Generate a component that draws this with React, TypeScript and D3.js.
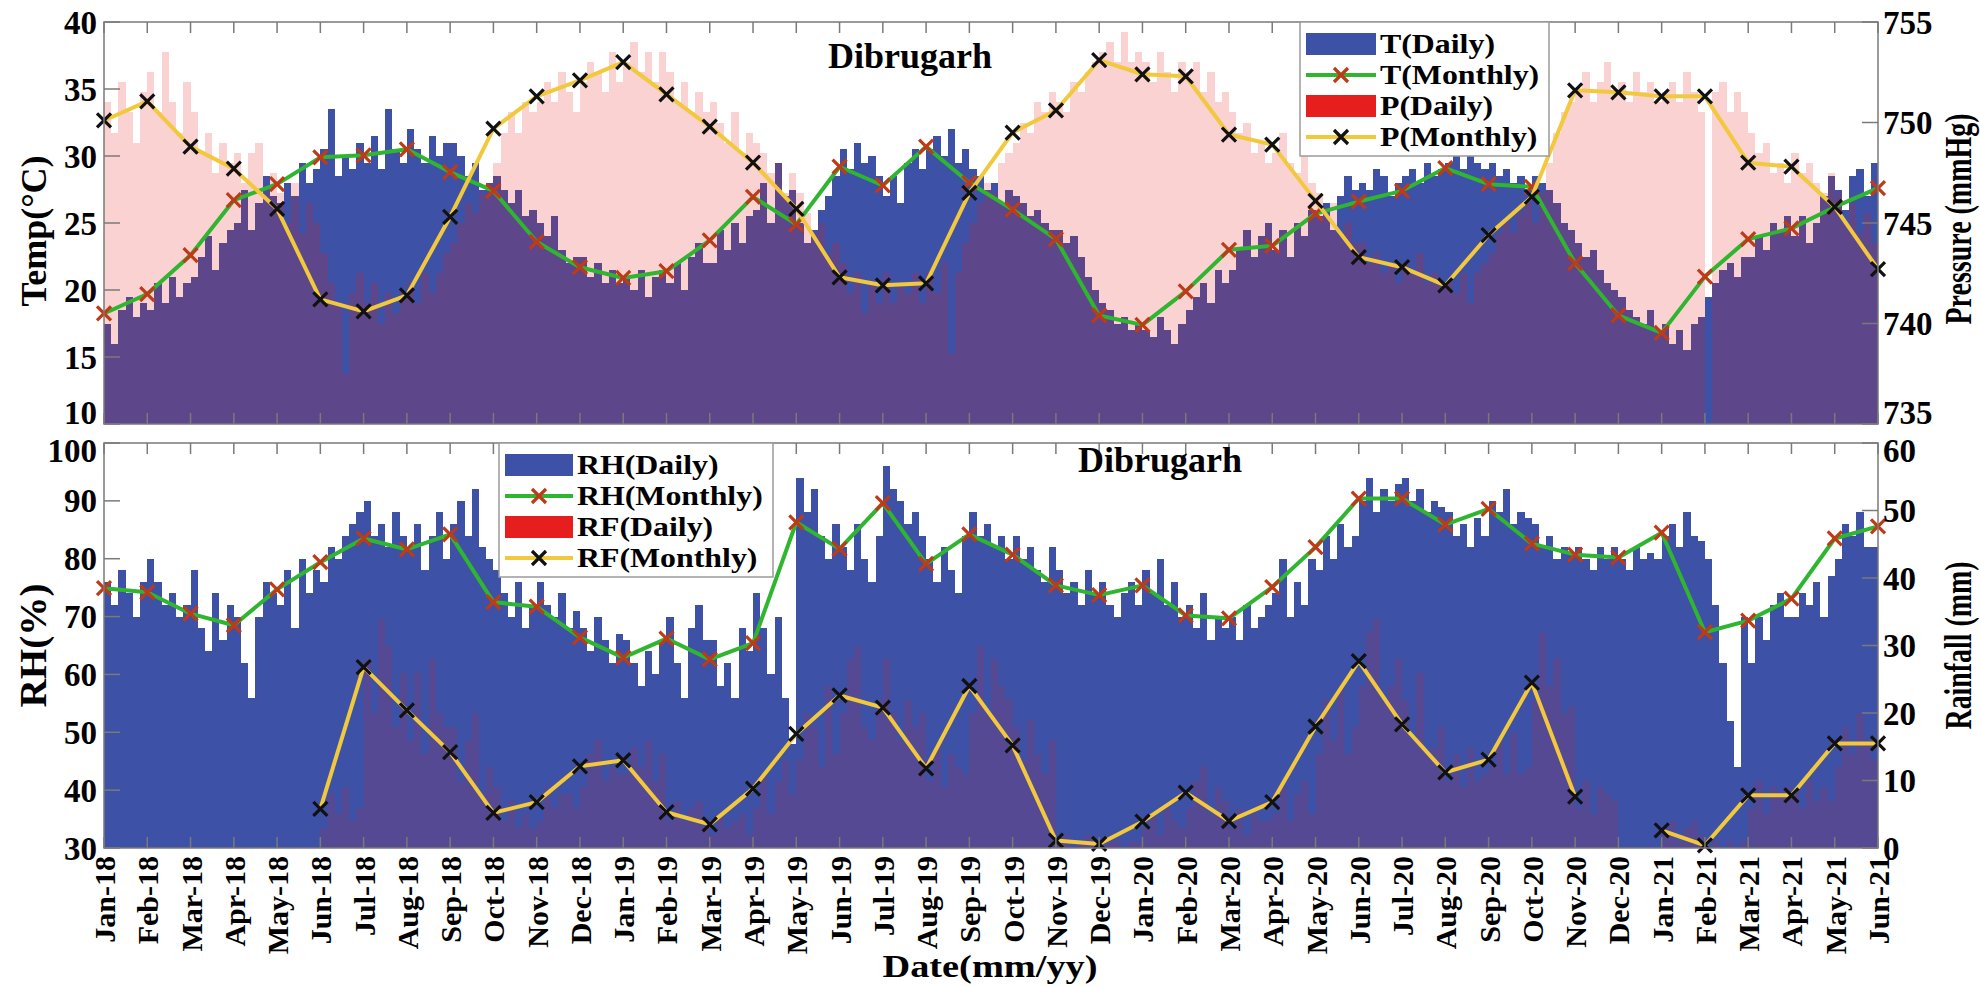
import React from 'react';
import * as d3 from 'd3';

// ---------- DATA ----------
const monthLabels = [
  'Jan-18','Feb-18','Mar-18','Apr-18','May-18','Jun-18','Jul-18','Aug-18','Sep-18','Oct-18','Nov-18','Dec-18',
  'Jan-19','Feb-19','Mar-19','Apr-19','May-19','Jun-19','Jul-19','Aug-19','Sep-19','Oct-19','Nov-19','Dec-19',
  'Jan-20','Feb-20','Mar-20','Apr-20','May-20','Jun-20','Jul-20','Aug-20','Sep-20','Oct-20','Nov-20','Dec-20',
  'Jan-21','Feb-21','Mar-21','Apr-21','May-21','Jun-21'
];

const tMonthly = [
  18.25, 19.7, 22.6, 26.7, 27.9, 29.9, 30.05, 30.5, 28.8, 27.4, 23.6, 21.7,
  20.9, 21.4, 23.7, 26.95, 24.9, 29.2, 27.8, 30.7, 28.0, 26.0, 23.8, 18.1,
  17.4, 19.9, 23.0, 23.3, 25.7, 26.6, 27.4, 29.1, 27.9, 27.7, 22.0, 18.1,
  16.8, 21.0, 23.8, 24.6, 26.2, 27.6
];
const pMonthly = [
  750.1, 751.05, 748.8, 747.7, 745.7, 741.2, 740.6, 741.4, 745.3, 749.7, 751.3, 752.1,
  753.0, 751.4, 749.8, 748.0, 745.7, 742.3, 741.9, 742.0, 746.5, 749.5, 750.6, 753.1,
  752.4, 752.3, 749.4, 748.9, 746.1, 743.3, 742.8, 741.9, 744.4, 746.3, 751.6, 751.5,
  751.3, 751.3, 748.0, 747.8, 745.8, 742.7
];
const rhMonthly = [
  74.9, 74.2, 70.5, 68.5, 74.7, 79.4, 83.5, 81.6, 84.2, 72.5, 71.7, 66.4,
  62.9, 66.2, 62.6, 65.4, 86.3, 81.7, 89.6, 79.1, 84.2, 80.7, 75.4, 73.7,
  75.4, 70.2, 69.7, 75.1, 82.0, 90.4, 90.4, 85.9, 88.6, 82.6, 80.7, 80.2,
  84.5, 67.3, 69.3, 73.1, 83.5, 85.6
];
const rfMonthly: (number | null)[] = [
  null, null, null, null, null, 5.8, 26.8, 20.4, 14.2, 5.2, 6.8, 12.1,
  13.0, 5.3, 3.5, 8.8, 16.9, 22.6, 20.8, 11.8, 24.0, 15.2, 1.1, 0.6,
  3.9, 8.2, 4.0, 6.8, 18.0, 27.7, 18.3, 11.2, 13.1, 24.5, 7.6, null,
  2.6, 0.4, 7.8, 7.8, 15.5, 15.5
];

// Daily series, sampled every ~5 days (6 values per month), Jan-18 .. May-21
const tDaily = [
  17.5,16.0,18.5,19.5,18.0,19.0, 18.5,20.5,19.0,21.0,19.5,20.5, 21.0,22.5,24.0,21.5,23.5,24.5,
  25.0,27.5,24.5,26.5,28.5,27.0, 26.5,28.0,27.0,29.5,28.0,29.0, 30.5,33.5,28.5,30.0,29.0,31.0,
  29.5,31.5,29.0,33.5,30.5,29.5, 32.0,30.5,29.5,31.5,30.0,31.0, 31.0,30.0,28.5,29.5,27.5,28.0,
  28.5,27.5,26.5,27.5,25.5,26.0, 25.0,24.0,25.5,23.0,22.0,22.5, 22.5,21.0,22.0,20.5,21.5,20.5,
  21.0,20.0,21.5,19.5,21.0,21.5, 20.5,22.0,20.0,22.5,23.5,22.0, 22.0,24.5,23.0,25.0,23.5,25.5,
  26.0,28.0,25.0,29.5,27.0,27.5, 25.0,23.5,24.5,26.0,27.0,28.5, 30.5,29.0,31.0,29.5,30.0,28.5,
  27.0,28.5,26.5,29.5,30.5,29.0, 30.5,31.5,30.0,32.0,29.5,30.5, 29.0,28.5,27.5,28.0,26.5,27.5,
  27.0,26.5,25.5,26.0,25.0,24.5, 24.5,23.5,24.0,22.5,21.0,20.0, 19.0,18.5,17.5,18.0,17.0,17.5,
  17.0,16.5,18.0,17.0,16.0,17.5, 18.5,19.5,20.5,19.0,21.5,20.5, 21.5,23.0,24.5,22.5,24.0,25.0,
  23.0,24.5,22.5,25.0,24.0,26.0, 25.5,26.5,24.5,27.0,28.5,27.5, 28.0,27.5,29.0,28.5,27.0,28.0,
  28.5,29.0,28.0,29.5,28.5,29.0, 29.5,30.0,29.0,30.5,29.5,29.0, 29.5,28.5,29.0,28.0,28.5,27.5,
  28.5,28.0,27.5,26.5,25.0,24.5, 23.5,22.5,23.0,21.5,20.5,20.0, 19.5,18.5,18.0,17.5,18.5,17.0,
  17.5,16.0,17.0,15.5,17.5,18.0, 19.5,20.5,21.5,22.0,21.0,22.5, 22.5,24.0,23.0,25.0,24.5,25.5,
  24.0,25.5,23.5,25.0,27.0,28.5, 27.5,26.0,28.5,29.0,27.0,29.5
];
const pDaily: (number | null)[] = [
  751.0,749.5,752.0,750.5,749.0,751.5, 752.5,750.5,753.5,751.0,749.5,752.0, 750.5,748.5,749.5,747.5,749.0,748.0,
  748.5,747.0,748.5,749.0,746.5,747.5, 746.5,745.0,747.0,744.5,746.0,745.0, 743.5,742.0,741.0,737.5,741.5,742.5,
  741.0,742.0,740.0,741.5,740.5,741.5, 742.0,741.0,742.5,741.5,742.5,743.5, 744.0,745.0,746.0,745.5,746.5,747.0,
  748.0,749.5,750.5,749.5,751.0,750.5, 751.0,752.0,751.0,752.5,751.5,750.5, 752.0,753.0,752.5,751.5,753.5,752.0,
  753.0,754.0,752.5,753.5,752.0,753.5, 752.5,751.0,752.0,750.5,751.5,750.5, 751.0,750.0,749.0,750.5,748.5,749.5,
  749.0,748.5,747.5,748.0,746.5,747.5, 746.5,745.5,744.5,745.0,743.5,744.0, 743.0,741.5,742.5,740.5,742.0,741.0,
  742.5,741.0,742.0,741.5,742.5,741.0, 742.5,741.5,743.0,738.5,742.5,744.0, 745.0,746.0,747.0,746.5,748.0,748.5,
  749.0,750.0,749.5,751.0,750.5,751.5, 751.0,750.5,752.0,751.5,752.5,753.0, 753.5,754.0,753.0,754.5,753.0,753.5,
  753.0,752.0,753.5,752.5,751.5,753.0, 752.5,753.0,751.5,752.5,751.0,751.5, 750.5,749.5,750.0,748.5,749.0,748.0,
  748.5,749.5,748.0,747.5,748.5,747.0, 746.5,745.5,746.0,744.5,745.0,744.0, 744.0,743.0,743.5,742.5,743.0,742.0,
  743.0,742.5,743.5,742.0,742.5,742.0, 742.0,741.5,742.5,741.0,742.5,743.0, 743.5,744.5,745.0,744.5,745.5,746.0,
  745.0,746.5,748.0,749.5,750.5,751.0, 751.5,752.5,751.0,752.0,753.0,751.5, 752.0,751.0,752.5,751.5,752.0,751.0,
  751.5,752.0,751.0,752.5,751.5,750.5, null,751.5,752.0,750.5,751.5,750.5, 749.5,748.5,749.0,747.5,748.0,747.0,
  748.5,747.5,748.0,747.0,746.5,747.5, 746.5,745.0,746.0,744.5,745.5,744.0
];
const rhDaily = [
  76,72,78,74,70,76, 80,76,72,74,70,72, 78,68,64,74,66,72,
  70,62,56,70,76,74, 72,78,68,80,74,78, 76,82,80,84,86,88,
  90,84,86,82,88,84, 82,86,78,84,88,80, 86,90,84,92,82,80,
  78,74,70,76,68,72, 76,72,70,74,68,71, 68,64,70,66,62,67,
  66,62,58,64,60,66, 70,62,56,68,72,66, 66,58,62,56,68,64,
  74,68,60,70,56,48, 94,88,92,84,80,86, 82,78,86,80,76,84,
  96,92,90,86,88,84, 80,76,82,78,74,84, 88,84,86,82,84,80,
  84,80,82,78,76,82, 78,74,76,72,78,74, 76,72,70,74,76,72,
  78,74,80,72,76,70, 72,68,74,66,70,68, 70,66,72,68,70,72,
  74,80,70,76,72,80, 78,84,80,86,82,84, 90,94,88,92,90,93,
  94,90,92,88,90,89, 88,84,86,82,87,84, 90,88,92,86,88,87,
  86,82,84,80,82,81, 82,80,78,82,80,82, 80,78,82,80,81,80,
  84,86,82,88,84,83, 80,72,62,52,44,70, 62,70,66,72,74,70,
  70,74,72,76,70,77, 80,86,84,88,82,82
];
const rfDaily: (number | null)[] = [
  null,null,null,null,null,null, null,null,null,null,null,null, null,null,null,null,null,null,
  null,null,null,null,null,null, null,null,null,null,null,null, 3,8,5,9,4,6,
  28,20,34,30,18,26, 16,26,14,28,20,18, 18,10,16,20,8,12,
  9,4,7,3,5,3, 4,9,6,8,8,6, 9,14,16,10,12,11,
  11,15,12,16,10,14, 4,7,4,6,7,4, 2,5,3,4,5,2,
  6,11,5,10,13,8, 13,20,18,12,24,14, 20,28,30,18,16,22,
  28,20,16,22,18,20, 10,15,9,14,12,11, 20,30,20,28,24,22,
  18,13,19,14,11,16, 1,2,0,1,2,1, 0,1,1,0,1,1,
  3,5,2,6,4,3, 6,10,12,5,9,7, 3,6,2,5,4,4,
  5,9,4,8,10,5, 14,22,16,24,14,18, 24,32,34,22,24,28,
  22,16,26,14,15,18, 10,14,9,15,10,11, 12,16,11,17,11,12,
  22,32,24,28,20,21, 6,10,5,9,8,7, null,null,null,null,null,null,
  2,4,1,3,4,2, 0,1,0,1,0,1, 6,10,5,9,8,9,
  8,6,10,7,9,7, 12,18,14,20,16,13
];

const tTicks = [10, 15, 20, 25, 30, 35, 40];
const pTicks = [735, 740, 745, 750, 755];
const rhTicks = [30, 40, 50, 60, 70, 80, 90, 100];
const rfTicks = [0, 10, 20, 30, 40, 50, 60];

// ---------- LAYOUT ----------
const W = 1980, H = 987;
const L = 104, R = 1878;
const T1 = 22, B1 = 424, T2 = 443, B2 = 848;
const PER_MONTH = 6;

const BLUE = '#3d51a6';
const RED = '#e61e1e';
const GREEN = '#2fb52f';
const YELLOW = '#f2c83c';
const MARK_RED = '#bf3a17';
const AXIS = '#7a7a7a';
const FONT = "'Liberation Serif','Times New Roman',Times,serif";

const x = d3.scaleLinear().domain([0, monthLabels.length - 1]).range([L, R]);
const yT = d3.scaleLinear().domain([10, 40]).range([B1, T1]).clamp(true);
const yP = d3.scaleLinear().domain([735, 755]).range([B1, T1]).clamp(true);
const yRH = d3.scaleLinear().domain([30, 100]).range([B2, T2]).clamp(true);
const yRF = d3.scaleLinear().domain([0, 60]).range([B2, T2]).clamp(true);

function Bars({ data, y, base, fill, opacity }: any) {
  return (
    <g>
      {data.map((v: number | null, i: number) => {
        if (v == null) return null;
        const x0 = x(i / PER_MONTH);
        const x1 = x((i + 1) / PER_MONTH);
        const yy = y(v);
        return (
          <rect key={i} x={x0} width={x1 - x0} y={yy} height={base - yy}
            fill={fill} fillOpacity={opacity} shapeRendering="crispEdges" />
        );
      })}
    </g>
  );
}

function xPath(cx: number, cy: number, s: number) {
  return `M${cx - s},${cy - s}L${cx + s},${cy + s}M${cx - s},${cy + s}L${cx + s},${cy - s}`;
}

function MonthlyLine({ data, y, color, mark }: any) {
  const pts: [number, number | null][] = data.map((v: number | null, i: number) => [i, v]);
  const line = d3.line<[number, number | null]>()
    .defined(d => d[1] != null)
    .x(d => x(d[0]))
    .y(d => y(d[1] as number));
  return (
    <g>
      <path d={line(pts) || ''} fill="none" stroke={color} strokeWidth={4} strokeLinejoin="round" />
      {pts.filter(p => p[1] != null).map(p => (
        <path key={p[0]} d={xPath(x(p[0]), y(p[1] as number), 7)} stroke={mark} strokeWidth={3.2} fill="none" />
      ))}
    </g>
  );
}

function Frame({ top, bottom, yl, ylTicks, yr, yrTicks, lowShift, highShift }: any) {
  const months = monthLabels.map((_, i) => i);
  const shift = (i: number, n: number) => (i === 0 ? lowShift : i === n - 1 ? highShift : 0);
  return (
    <g>
      <rect x={L} y={top} width={R - L} height={bottom - top} fill="none" stroke={AXIS} strokeWidth={1.5} />
      {months.map(m => (
        <g key={m}>
          <line x1={x(m)} x2={x(m)} y1={top} y2={top + 11} stroke={AXIS} strokeWidth={1.5} />
          <line x1={x(m)} x2={x(m)} y1={bottom} y2={bottom - 11} stroke={AXIS} strokeWidth={1.5} />
        </g>
      ))}
      {ylTicks.map((t: number, i: number) => (
        <g key={'l' + t}>
          <line x1={L} x2={L + 16} y1={yl(t)} y2={yl(t)} stroke={AXIS} strokeWidth={1.5} />
          <text x={L - 7} y={yl(t) + shift(i, ylTicks.length)} dy="0.35em" textAnchor="end" fontSize={33}>{t}</text>
        </g>
      ))}
      {yrTicks.map((t: number, i: number) => (
        <g key={'r' + t}>
          <line x1={R} x2={R - 16} y1={yr(t)} y2={yr(t)} stroke={AXIS} strokeWidth={1.5} />
          <text x={R + 5} y={yr(t) + shift(i, yrTicks.length)} dy="0.35em" textAnchor="start" fontSize={33}>{t}</text>
        </g>
      ))}
    </g>
  );
}

function Legend({ x0, y0, w, patchW, items }: any) {
  const rowH = 31;
  return (
    <g>
      <rect x={x0} y={y0} width={w} height={rowH * 4 + 10} fill="#fff" stroke="#9a9a9a" strokeWidth={1.5} />
      {items.map((it: any, i: number) => {
        const cy = y0 + 22 + i * rowH;
        const px = x0 + 6;
        return (
          <g key={i}>
            {it.type === 'patch' ? (
              <rect x={px} y={cy - 11} width={patchW} height={22} fill={it.color} />
            ) : (
              <g>
                <line x1={px} x2={px + patchW} y1={cy} y2={cy} stroke={it.color} strokeWidth={4} />
                <path d={xPath(px + patchW / 2, cy, 7)} stroke={it.mark} strokeWidth={3.2} fill="none" />
              </g>
            )}
            <text transform={`translate(${px + patchW + 4},${cy}) scale(1.18,1)`} dy="0.35em" fontSize={27}>{it.label}</text>
          </g>
        );
      })}
    </g>
  );
}

export default function App() {
  const months = monthLabels.map((_, i) => i);
  return (
    <svg width={W} height={H} style={{ position: 'absolute', left: 0, top: 0, background: '#fff' }}
      fontFamily={FONT} fontWeight="bold">
      <rect x={0} y={0} width={W} height={H} fill="#fff" />
      {/* Top panel */}
      <Bars data={tDaily} y={yT} base={B1} fill={BLUE} opacity={1} />
      <Bars data={pDaily} y={yP} base={B1} fill={RED} opacity={0.2} />
      <MonthlyLine data={tMonthly} y={yT} color={GREEN} mark={MARK_RED} />
      <MonthlyLine data={pMonthly} y={yP} color={YELLOW} mark="#111" />
      <Frame top={T1} bottom={B1} yl={yT} ylTicks={tTicks} yr={yP} yrTicks={pTicks} lowShift={-12} highShift={0} />
      <text x={910} y={55} dy="0.35em" textAnchor="middle" fontSize={36}>Dibrugarh</text>
      <Legend x0={1300} y0={T1} w={249} patchW={70} items={[
        { type: 'patch', color: BLUE, label: 'T(Daily)' },
        { type: 'line', color: GREEN, mark: MARK_RED, label: 'T(Monthly)' },
        { type: 'patch', color: RED, label: 'P(Daily)' },
        { type: 'line', color: YELLOW, mark: '#111', label: 'P(Monthly)' },
      ]} />

      {/* Bottom panel */}
      <Bars data={rhDaily} y={yRH} base={B2} fill={BLUE} opacity={1} />
      <Bars data={rfDaily} y={yRF} base={B2} fill={RED} opacity={0.14} />
      <MonthlyLine data={rhMonthly} y={yRH} color={GREEN} mark={MARK_RED} />
      <MonthlyLine data={rfMonthly} y={yRF} color={YELLOW} mark="#111" />
      <Frame top={T2} bottom={B2} yl={yRH} ylTicks={rhTicks} yr={yRF} yrTicks={rfTicks} lowShift={0} highShift={7} />
      <text x={1160} y={459} dy="0.35em" textAnchor="middle" fontSize={36}>Dibrugarh</text>
      <Legend x0={499} y0={T2} w={274} patchW={68} items={[
        { type: 'patch', color: BLUE, label: 'RH(Daily)' },
        { type: 'line', color: GREEN, mark: MARK_RED, label: 'RH(Monthly)' },
        { type: 'patch', color: RED, label: 'RF(Daily)' },
        { type: 'line', color: YELLOW, mark: '#111', label: 'RF(Monthly)' },
      ]} />

      {/* X tick labels */}
      {months.map(m => (
        <text key={m} transform={`translate(${x(m) + 11},${B2 + 8}) rotate(-90)`} textAnchor="end" fontSize={30}>
          {monthLabels[m]}
        </text>
      ))}

      {/* Axis titles */}
      <text transform={`translate(46,${(T1 + B1) / 2 + 8}) rotate(-90)`} textAnchor="middle" fontSize={36}>Temp(°C)</text>
      <text transform={`translate(46,${(T2 + B2) / 2}) rotate(-90)`} textAnchor="middle" fontSize={38}
        textLength={124} lengthAdjust="spacingAndGlyphs">RH(%)</text>
      <text transform={`translate(1971,${(T1 + B1) / 2 - 4}) rotate(-90)`} textAnchor="middle" fontSize={37}
        textLength={211} lengthAdjust="spacingAndGlyphs">Pressure (mmHg)</text>
      <text transform={`translate(1971,${(T2 + B2) / 2}) rotate(-90)`} textAnchor="middle" fontSize={37}
        textLength={168} lengthAdjust="spacingAndGlyphs">Rainfall (mm)</text>
      <text x={990} y={977} textAnchor="middle" fontSize={31}
        textLength={215} lengthAdjust="spacingAndGlyphs">Date(mm/yy)</text>
    </svg>
  );
}
